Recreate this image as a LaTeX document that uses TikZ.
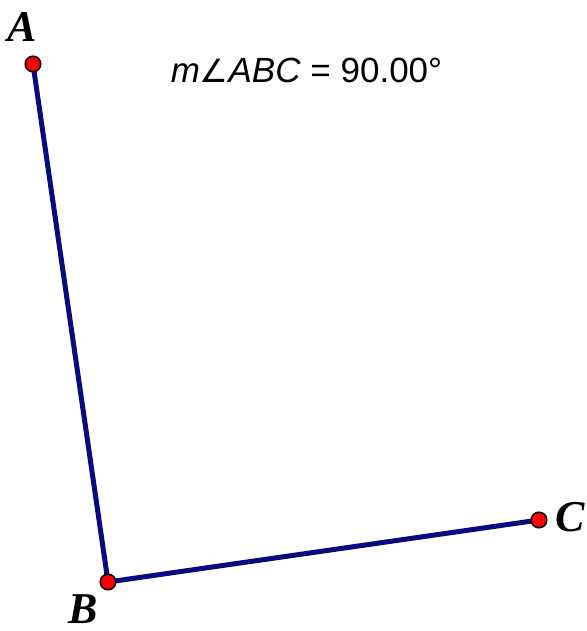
\documentclass[tikz,border=0pt]{standalone}
\usepackage{fontspec}
\setmainfont{Liberation Serif}
\newfontfamily\labsans{Liberation Sans}
\newfontfamily\symfont{DejaVu Sans}
\definecolor{segblue}{RGB}{10,10,128}
\definecolor{ptred}{RGB}{255,0,0}
\tikzset{
  seg/.style={draw=segblue, line width=5pt, line cap=round},
  pt/.style={circle, fill=ptred, draw=black, line width=1.6pt, minimum size=15.5pt, inner sep=0pt},
  lab/.style={font=\fontsize{44}{44}\selectfont\bfseries\itshape, inner sep=0pt},
  meas/.style={font=\fontsize{35}{35}\labsans, inner sep=0pt}
}
\begin{document}
\begin{tikzpicture}[x=1pt,y=-1pt]
\useasboundingbox (0,0) rectangle (586,631);
\coordinate (A) at (33,64);
\coordinate (B) at (108,582);
\coordinate (C) at (539,520);
\draw[seg] (A) -- (B) -- (C);
\node[pt] (pA) at (A) {};
\node[pt] (pB) at (B) {};
\node[pt] (pC) at (C) {};
\node[lab] (lA) at (22,27) {A};
\node[lab] (lB) at (83,609) {B};
\node[lab] (lC) at (570,517) {C};
\node[meas] (m) at (306.5,70) {\textit{m}{\symfont\fontsize{32}{32}\selectfont ∠}\textit{ABC} = 90.00°};
\end{tikzpicture}
\end{document}
